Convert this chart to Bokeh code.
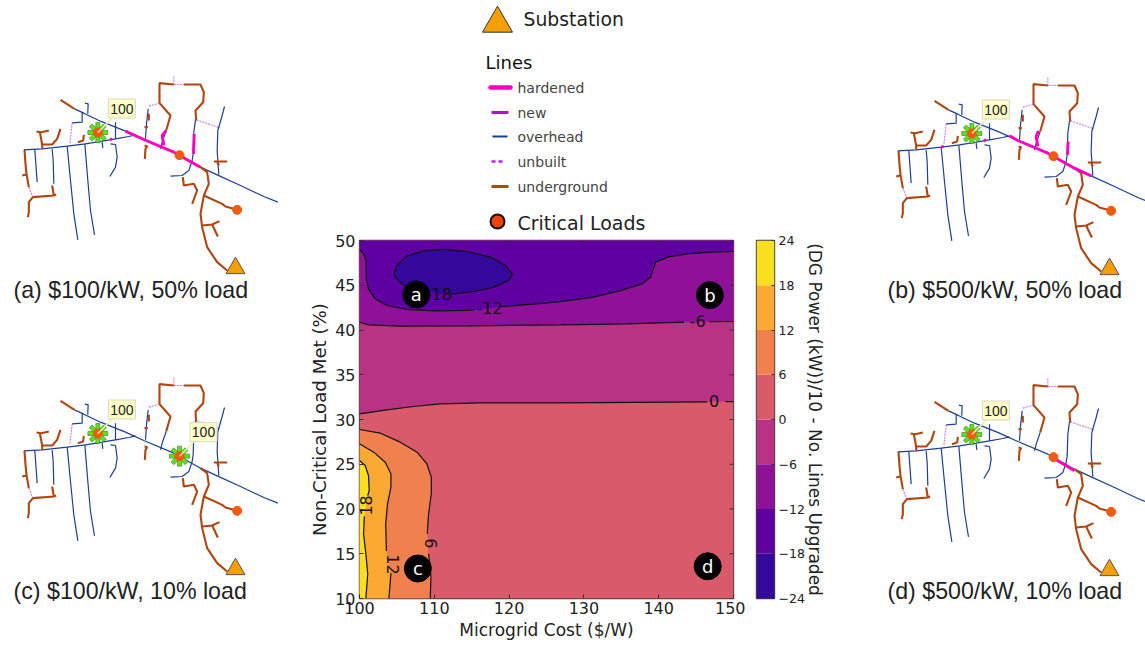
from bokeh.plotting import figure
from bokeh.layouts import row, column
from bokeh.models import FixedTicker, Range1d
from bokeh.core.properties import value
from bokeh.embed import file_html
from bokeh.resources import INLINE
import math

nan = float("nan")

# ---------- contour chart values ----------
x_ticks = [100, 110, 120, 130, 140, 150]
y_ticks = [10, 15, 20, 25, 30, 35, 40, 45, 50]
cbar_levels = [-24, -18, -12, -6, 0, 6, 12, 18, 24]
cbar_tick_labels = ["\u221224", "\u221218", "\u221212", "\u22126", "0", "6", "12", "18", "24"]
band_colors = ["#33089a", "#5f00a2", "#8f1198", "#b83384", "#d95a6b", "#f1804f", "#fba932", "#f8e020"]

c_m18_x = [104.64, 105.0, 106.34, 108.57, 111.25, 114.38, 117.5, 119.51, 120.45, 119.96, 117.95, 115.27, 112.14, nan, 107.23, 105.67, 104.78, 104.64]
c_m18_y = [46.28, 47.2, 48.25, 48.85, 49.0, 48.77, 48.14, 47.2, 46.28, 45.53, 44.79, 44.3, 44.0, nan, 44.41, 45.16, 45.9, 46.28]
c_m12_x = [100, 100.54, 100.9, 100.9, 101.2, 102.1, 103.66, 106.34, 109.9, 114.4, 115.4, nan, 118.9, 119.3, 123.3, 126.9, 131.3, 134.9, 137.8, 138.9, 139.3, 139.6, 141.2, 143.8, 147.0, 150]
c_m12_y = [49, 48.5, 47.77, 45.72, 44.6, 43.48, 42.74, 42.29, 42.14, 42.2, 42.25, nan, 42.6, 42.63, 42.89, 43.18, 43.67, 44.4, 45.16, 45.9, 46.83, 47.58, 48.14, 48.5, 48.7, 48.77]
c_m6_x = [100, 101.2, 105.45, 114.4, 126.87, 135.8, 143.4, nan, 146.8, 150]
c_m6_y = [40.87, 40.58, 40.43, 40.47, 40.58, 40.69, 40.87, nan, 40.92, 40.95]
c_0_x = [100, 103.66, 107.2, 110.8, 116.2, 126.9, 146.5, nan, 148.9, 150]
c_0_y = [30.63, 31.08, 31.45, 31.75, 31.86, 31.86, 31.97, nan, 32.0, 32.0]
c_6_x = [100, 102.8, 105.45, 107.7, 109.0, 109.6, 109.6, 109.24, 109.06, nan, 109.24, 109.55, 109.46]
c_6_y = [28.88, 28.47, 27.47, 26.35, 25.05, 23.56, 21.7, 19.46, 17.23, nan, 15.0, 12.4, 10]
c_12_x = [100, 101.9, 103.44, 104.2, 104.2, 103.75, 103.5, 103.6, nan, 104.1, 104.2, 103.93]
c_12_y = [27.28, 26.35, 25.23, 23.93, 22.44, 20.58, 18.34, 15.3, nan, 12.8, 12.76, 10]
c_18_x = [100, 100.76, 101.2, 101.3, 101.1, nan, 100.65, 100.54, 100.85, 101.1, 100.85]
c_18_y = [25.42, 24.86, 23.74, 22.07, 21.5, nan, 19.2, 17.23, 15.0, 12.76, 10]

clabel_text = ["-18", "-12", "-6", "0", "6", "12", "18"]
clabel_x = [110.6, 117.4, 145.2, 147.4, 109.6, 104.5, 100.9]
clabel_y = [44.05, 42.5, 40.95, 32.1, 16.15, 13.8, 20.4]
clabel_rot = [0, 0, 0, 0, -90, -90, 90]

case_names = ["a", "b", "c", "d"]
case_cost = [107.6, 146.85, 107.8, 146.55]
case_load = [43.97, 43.9, 13.35, 13.6]

# ---------- legend ----------
line_names = ["hardened", "new", "overhead", "unbuilt", "underground"]
line_colors = ["#ff00c0", "#b010e0", "#1d3f91", "#c020f0", "#b0450f"]
line_widths = [4.5, 3, 2, 2.5, 3]
line_dashes = ["solid", "solid", "solid", "4 3", "solid"]

# ---------- feeder map (same network in all four panels) ----------
overhead = [
    ([222, 250, 300, 375, 430, 520, 600, 650, 720, 790, 832], [115, 128, 152, 182, 207, 245, 290, 313, 345, 378, 395]),
    ([253, 263, 262, 262], [98, 100, 122, 130]),
    ([245, 245, 215], [125, 155, 157]),
    ([70, 125, 200, 255, 305, 345, 385, 405], [238, 235, 227, 220, 212, 205, 198, 193]),
    ([103, 105, 110], [238, 265, 335]),
    ([155, 158, 160], [236, 270, 340]),
    ([200, 210, 220, 232], [227, 330, 430, 508]),
    ([253, 262, 270, 282], [220, 330, 420, 493]),
    ([305, 307], [215, 232]),
    ([330, 345, 350, 345, 328], [220, 222, 260, 290, 318]),
    ([345, 345], [155, 205]),
    ([443, 438, 435], [115, 160, 205]),
    ([497, 485, 480], [180, 215, 235]),
    ([585, 580, 578, 575, 565, 545, 510], [148, 185, 250, 270, 300, 315, 317]),
    ([672, 665, 652, 650, 655], [108, 135, 180, 240, 313]),
]
underground = [
    ([180, 222], [88, 115]),
    ([72, 75, 78, 85], [238, 280, 310, 350]),
    ([65, 78], [315, 312]),
    ([97, 160, 167], [380, 375, 372]),
    ([155, 160], [345, 375]),
    ([97, 85, 85, 82], [380, 395, 425, 440]),
    ([108, 122, 145], [183, 185, 180]),
    ([118, 125, 155, 170, 180], [185, 222, 222, 205, 175]),
    ([125, 125], [222, 235]),
    ([232, 248, 250], [215, 210, 193]),
    ([477, 477, 520], [98, 38, 42]),
    ([550, 600, 610, 608, 585, 587], [42, 42, 65, 95, 120, 150]),
    ([477, 510, 497], [98, 135, 180]),
    ([445, 445], [130, 150]),
    ([432, 442], [170, 170]),
    ([432, 440, 435, 433], [225, 227, 235, 265]),
    ([600, 620, 625, 610, 600, 605, 620, 650, 680], [290, 305, 340, 375, 430, 470, 530, 575, 600]),
    ([610, 665, 675, 710], [375, 400, 408, 418]),
    ([605, 635, 657], [465, 462, 452]),
    ([635, 652], [462, 498]),
    ([547, 550, 580, 590, 575], [320, 345, 340, 360, 400]),
    ([640, 680], [273, 273]),
    ([650, 655], [273, 285]),
]
unbuilt = [
    ([215, 208], [157, 220]),
    ([85, 97], [350, 380]),
    ([520, 550], [42, 42]),
    ([520, 520], [18, 42]),
    ([477, 445], [98, 107]),
    ([588, 658], [148, 172]),
]
hardened_a = [
    ([375, 430, 520, 600], [182, 207, 245, 290]),
    ([497, 485, 490], [180, 195, 225]),
    ([581, 579], [190, 250]),
    ([328, 335], [207, 206]),
]
hardened_b = [
    ([405, 430, 520, 600, 650], [193, 207, 245, 290, 313]),
    ([492, 485, 490], [178, 195, 225]),
    ([581, 579], [210, 250]),
    ([200, 208], [226, 225]),
    ([328, 335], [207, 206]),
]
hardened_c = []
hardened_d = [
    ([545, 600], [262, 295]),
]
critical_x = [292, 537, 710]
critical_y = [186, 254, 418]
gens_a = [0]
gens_b = [0]
gens_c = [0, 1]
gens_d = [0]
gen_kw = "100"
substation_x = [705]
substation_y = [593]

captions = ["(a) $100/kW, 50% load", "(b) $500/kW, 50% load", "(c) $100/kW, 10% load", "(d) $500/kW, 10% load"]

DJ = value("DejaVu Sans")
LS = value("Liberation Sans")
TXT = "#222222"
H = 645


def bare(w, h, xr, yr):
    p = figure(width=w, height=h, x_range=Range1d(*xr), y_range=Range1d(*yr),
               toolbar_location=None, output_backend="svg", min_border=0)
    p.grid.visible = False
    p.outline_line_color = None
    p.xaxis.visible = False
    p.yaxis.visible = False
    return p


def panel(p, ox, oy, hardened, gens, caption, cap_x, cap_y):
    tx = lambda v: [ox + a / 3 for a in v]
    ty = lambda v: [oy + a / 3 for a in v]
    p.multi_line([tx(a) for a, _ in unbuilt], [ty(b) for _, b in unbuilt],
                 line_color="#cc77ee", line_width=1.1, line_dash="2 1")
    p.multi_line([tx(a) for a, _ in overhead], [ty(b) for _, b in overhead],
                 line_color="#1d3f91", line_width=1.2)
    p.multi_line([tx(a) for a, _ in underground], [ty(b) for _, b in underground],
                 line_color="#b0450f", line_width=2.1)
    if hardened:
        p.multi_line([tx(a) for a, _ in hardened], [ty(b) for _, b in hardened],
                     line_color="#ff00c0", line_width=2.9)
    # generator bursts
    for g in gens:
        gx, gy = ox + critical_x[g] / 3, oy + critical_y[g] / 3
        p.rect([gx] * 4, [gy] * 4, width=20, height=4, width_units="screen", height_units="screen",
               angle=[0, math.pi / 4, math.pi / 2, 3 * math.pi / 4],
               fill_color="#5fe01a", line_color="#2f7a2f", line_width=0.6)
    p.scatter(tx(critical_x), ty(critical_y), size=9, marker="circle", fill_color="#f25a10", line_color="#f25a10")
    for g in gens:
        gx, gy = ox + critical_x[g] / 3, oy + critical_y[g] / 3
        bx, by = gx + 24, gy - 24
        p.segment([gx], [gy], [bx - 8], [by + 8], line_color="#eeeeaa", line_width=1.5)
        p.rect([bx], [by], width=27, height=19, width_units="screen", height_units="screen",
               fill_color="#ffffc8", line_color="#d8d8c0", line_width=1)
        p.text([bx], [by], text=[gen_kw], text_font=LS, text_font_size="14px", text_color="#222222",
               text_align="center", text_baseline="middle")
    p.scatter(tx(substation_x), ty(substation_y), size=19, marker="triangle",
              fill_color="#f5a000", line_color="#555555", line_width=1)
    p.text([cap_x], [cap_y], text=[caption], text_font=LS, text_font_size="23.2px", text_color=TXT,
           text_align="left", text_baseline="middle")


# left maps
left = bare(300, H, (0, 300), (H, 0))
panel(left, 0, 70, hardened_a, gens_a, captions[0], 13, 289)
panel(left, 0, 371, hardened_c, gens_c, captions[2], 13, 590)

# right maps
right = bare(275, H, (870, 1145), (H, 0))
panel(right, 874, 71, hardened_b, gens_b, captions[1], 887, 289)
panel(right, 874, 372, hardened_d, gens_d, captions[3], 887, 590)

# legend
leg = bare(570, 232, (300, 870), (232, 0))
leg.scatter([497], [23], size=30, marker="triangle", fill_color="#f5a000", line_color="#333333", line_width=1)
leg.text([523], [19], text=["Substation"], text_font=DJ, text_font_size="18.8px", text_color=TXT,
         text_baseline="middle")
leg.text([485], [62], text=["Lines"], text_font=DJ, text_font_size="18px", text_color="#111111",
         text_baseline="middle")
row_y = [87, 112, 136, 161, 186]
row_x0 = [490, 491, 492, 491, 491]
row_x1 = [510, 508, 507, 503, 508]
for nm, col, lw, ds, yy, x0, x1 in zip(line_names, line_colors, line_widths, line_dashes, row_y, row_x0, row_x1):
    leg.line([x0, x1], [yy, yy], line_color=col, line_width=lw, line_dash=ds, line_cap="round" if nm == "hardened" else "butt")
    leg.text([517], [yy], text=[nm], text_font=DJ, text_font_size="14px", text_color="#444444", text_baseline="middle")
leg.scatter([497], [221], size=14, marker="circle", fill_color="#ee4400", line_color="#111111", line_width=2)
leg.text([517], [222], text=["Critical Loads"], text_font=DJ, text_font_size="19px", text_color=TXT,
         text_baseline="middle")

# contour
p = figure(width=445, height=H - 232, x_range=Range1d(100, 150), y_range=Range1d(10, 50),
           toolbar_location=None, output_backend="svg",
           min_border_left=59, min_border_right=12, min_border_top=8, min_border_bottom=H - 598)
p.grid.visible = False
p.outline_line_color = "#444444"
p.outline_line_width = 1.4


def clean(a):
    return [v for v in a if v == v]


p.quad(left=[100], right=[150], bottom=[10], top=[50], fill_color=band_colors[4], line_color=None)
for xs, ys, col in [(c_0_x, c_0_y, band_colors[3]), (c_m6_x, c_m6_y, band_colors[2]), (c_m12_x, c_m12_y, band_colors[1])]:
    p.patch(clean(xs) + [150, 100], clean(ys) + [50, 50], fill_color=col, line_color=None)
p.patch(clean(c_m18_x), clean(c_m18_y), fill_color=band_colors[0], line_color=None)
for xs, ys, col in [(c_6_x, c_6_y, band_colors[5]), (c_12_x, c_12_y, band_colors[6]), (c_18_x, c_18_y, band_colors[7])]:
    p.patch(clean(xs) + [100], clean(ys) + [10], fill_color=col, line_color=None)
for xs, ys in [(c_m18_x, c_m18_y), (c_m12_x, c_m12_y), (c_m6_x, c_m6_y), (c_0_x, c_0_y),
               (c_6_x, c_6_y), (c_12_x, c_12_y), (c_18_x, c_18_y)]:
    p.line(xs, ys, line_color="#111111", line_width=1.2)
p.text(clabel_x, clabel_y, text=clabel_text, angle=[math.radians(a) for a in clabel_rot],
       text_font=DJ, text_font_size="16px", text_color="#111111", text_align="center", text_baseline="middle")
p.scatter(case_cost, case_load, size=27, marker="circle", fill_color="#000000", line_color="#000000")
p.text(case_cost, case_load, text=case_names, text_font=DJ, text_font_size="18px", text_color="#ffffff",
       text_align="center", text_baseline="middle")

for ax, ticks in [(p.xaxis[0], x_ticks), (p.yaxis[0], y_ticks)]:
    ax.ticker = FixedTicker(ticks=ticks)
    ax.major_tick_in = 4
    ax.major_tick_out = 0
    ax.minor_tick_line_color = None
    ax.major_tick_line_color = "#333333"
    ax.axis_line_color = None
    ax.major_label_text_font = "DejaVu Sans"
    ax.major_label_text_font_size = "16px"
    ax.major_label_text_color = TXT
    ax.axis_label_text_font = "DejaVu Sans"
    ax.axis_label_text_font_style = "normal"
    ax.axis_label_text_color = TXT
p.xaxis[0].axis_label = "Microgrid Cost ($/W)"
p.xaxis[0].axis_label_text_font_size = "17px"
p.xaxis[0].major_label_standoff = 3
p.xaxis[0].axis_label_standoff = 3
p.yaxis[0].axis_label = "Non-Critical Load Met (%)"
p.yaxis[0].axis_label_text_font_size = "18.2px"
p.yaxis[0].major_label_standoff = 4
p.yaxis[0].axis_label_standoff = 2
# tick marks on the top and right frame edges (half of each dash is clipped by the frame)
p.scatter(x_ticks, [50] * len(x_ticks), marker="dash", angle=math.pi / 2, size=8, line_color="#333333", line_width=1)
p.scatter([150] * len(y_ticks), y_ticks, marker="dash", size=8, line_color="#333333", line_width=1)

# colour bar
cb = figure(width=125, height=H - 232, x_range=Range1d(0, 1), y_range=Range1d(-24, 24),
            toolbar_location=None, output_backend="svg", y_axis_location="right",
            min_border_left=11, min_border_right=96, min_border_top=8, min_border_bottom=H - 598)
cb.grid.visible = False
cb.xaxis.visible = False
cb.outline_line_color = "#444444"
cb.outline_line_width = 1.4
cb.quad(left=[0] * 8, right=[1] * 8, bottom=cbar_levels[:-1], top=cbar_levels[1:],
        fill_color=band_colors, line_color=None)
ya = cb.yaxis[0]
ya.ticker = FixedTicker(ticks=cbar_levels)
ya.major_label_overrides = {int(k): v for k, v in zip(cbar_levels, cbar_tick_labels)}
ya.major_tick_in = 3
ya.major_tick_out = 0
ya.minor_tick_line_color = None
ya.axis_line_color = None
ya.major_tick_line_color = "#333333"
ya.major_label_text_font = "DejaVu Sans"
ya.major_label_text_font_size = "12.5px"
ya.major_label_text_color = TXT
ya.major_label_standoff = 4
ya.axis_label = "(DG Power (kW))/10 - No. Lines Upgraded"
ya.axis_label_text_font = "DejaVu Sans"
ya.axis_label_text_font_style = "normal"
ya.axis_label_text_font_size = "17px"
ya.axis_label_text_color = TXT
ya.axis_label_standoff = -3

page = row(left, column(leg, row(p, cb)), right)
open("out.html", "w").write(file_html(page, INLINE))
